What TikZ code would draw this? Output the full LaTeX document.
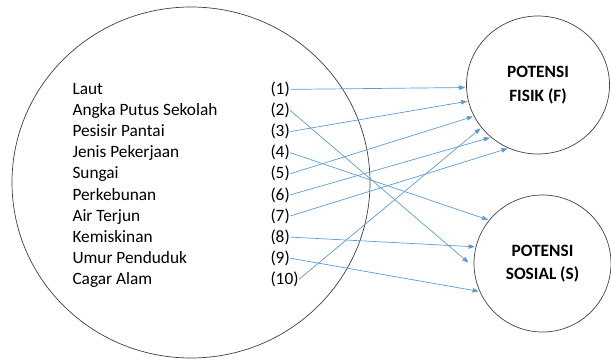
\documentclass[tikz,border=0pt]{standalone}
\usepackage{fontspec}
\setmainfont{Carlito}
\usetikzlibrary{arrows.meta,shapes.geometric}
\definecolor{linkblue}{RGB}{91,155,213}
\definecolor{rimgray}{RGB}{64,64,64}

\begin{document}
\begin{tikzpicture}[x=1pt,y=-1pt]
	\useasboundingbox (0,0) rectangle (611,361);
		\begin{scope}[every node/.style={ellipse,draw=rimgray,line width=0.7pt,align=center,
              font=\bfseries\fontsize{17.3}{23.3}\selectfont}]
    \node [minimum width=358pt,minimum height=351pt] (area) at (191,182.5) {};
    \node [minimum width=143pt,minimum height=138pt] (F) at (538,85) {POTENSI\\FISIK (F)};
    \node [minimum width=137pt,minimum height=137pt] (S) at (542.5,263.5) {POTENSI\\SOSIAL (S)};
	\end{scope}

	\begin{scope}[every node/.style={anchor=base west,inner sep=0pt,outer sep=0.5pt,
              font=\fontsize{17.3}{21.1}\selectfont}]
    \node (laut) at (72,94.5) {Laut};
    \node (angka) at (72,115.6) {Angka Putus Sekolah};
    \node (pesisir) at (72,136.7) {Pesisir Pantai};
    \node (jenis) at (72,157.8) {Jenis Pekerjaan};
    \node (sungai) at (72,178.9) {Sungai};
    \node (kebun) at (72,200) {Perkebunan};
    \node (air) at (72,221.1) {Air Terjun};
    \node (miskin) at (72,242.2) {Kemiskinan};
    \node (umur) at (72,263.3) {Umur Penduduk};
    \node (cagar) at (72,284.4) {Cagar Alam};
    \node (n1) at (270,94.5) {(1)};
    \node (n2) at (270,115.6) {(2)};
    \node (n3) at (270,136.7) {(3)};
    \node (n4) at (270,157.8) {(4)};
    \node (n5) at (270,178.9) {(5)};
    \node (n6) at (270,200) {(6)};
    \node (n7) at (270,221.1) {(7)};
    \node (n8) at (270,242.2) {(8)};
    \node (n9) at (270,263.3) {(9)};
    \node (n10) at (270,284.4) {(10)};
	\end{scope}

	\begin{scope}[>={Triangle[length=6pt,width=4.5pt]},
              every edge/.style={draw=linkblue,line width=0.7pt,shorten >=1pt}]
    \path [->] (n1.east) edge (F.182);
    \path [->] (n2.east) edge [shorten >=7pt] (S.183);
    \path [->] (n3.east) edge (F.193);
    \path [->] (n4.east) edge (S.141);
    \path [->] (n5.east) edge (F.206);
    \path [->] (n6.east) edge (F.228);
    \path [->] (n7.east) edge (F.245);
    \path [->] (n8.east) edge (S.166);
    \path [->] (n9.east) edge (S.204);
    \path [->] (n10.east) edge (F.217);
\end{scope}
\end{tikzpicture}
\end{document}
